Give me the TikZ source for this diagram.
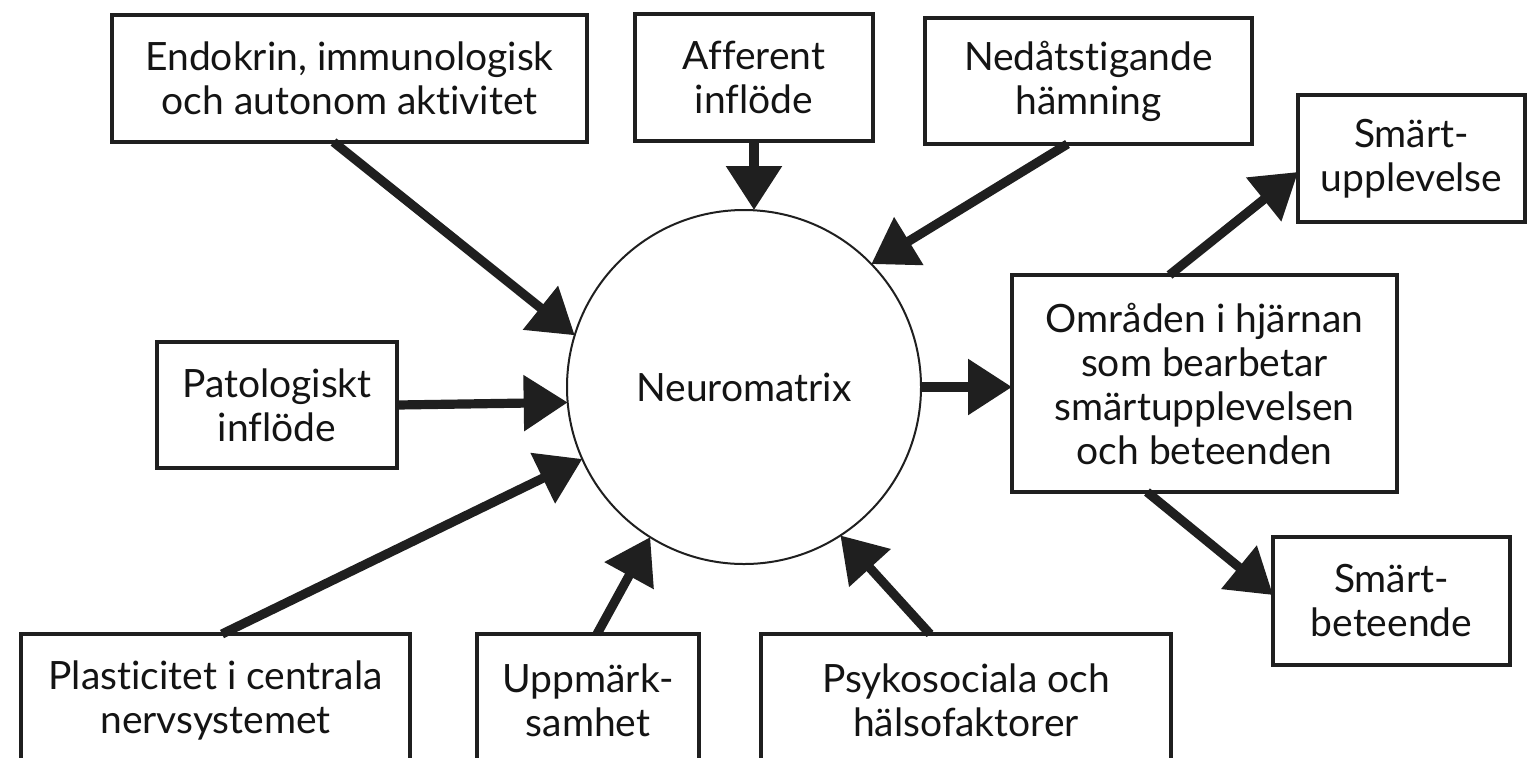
\documentclass[tikz,border=0pt]{standalone}
\usepackage{fontspec}
\setmainfont{Lato}[Ligatures=NoCommon]
\usetikzlibrary{arrows.meta}
\begin{document}
\begin{tikzpicture}[x=0.5pt,y=-0.5pt,
  box/.style={draw=black!88, line width=1.6pt, align=center, inner sep=0pt, outer sep=0pt,
    font=\fontsize{19.5}{22}\selectfont, text=black!92},
  arr/.style={line width=4.6pt, draw=black!88, -{Triangle[length=22pt,width=27pt]}},
]
\useasboundingbox (0,0) rectangle (1530,757);
\clip (0,0) rectangle (1530,757);
\fill[white] (0,0) rectangle (1530,757);

\node[box, minimum width=237.5pt, minimum height=63.5pt] (endo) at (349.5,78.5) {Endokrin, immunologisk\\och autonom aktivitet};
\node[box, minimum width=119pt, minimum height=63.5pt] (aff) at (754,77.5) {Afferent\\inflöde};
\node[box, minimum width=163.5pt, minimum height=63pt] (ned) at (1088.5,81) {Nedåtstigande\\hämning};
\node[box, minimum width=113.5pt, minimum height=63.5pt] (upp) at (1411.5,158.5) {Smärt-\\upplevelse};
\node[box, minimum width=192.5pt, minimum height=108.5pt] (omr) at (1204.5,383.5) {Områden i hjärnan\\som bearbetar\\smärtupplevelsen\\och beteenden};
\node[box, minimum width=118.5pt, minimum height=64pt] (bet) at (1391.5,601) {Smärt-\\beteende};
\node[box, minimum width=120pt, minimum height=63pt] (pat) at (277,405) {Patologiskt\\inflöde};
\node[box, minimum width=194.5pt, minimum height=66pt] (pla) at (215.5,700) {Plasticitet i centrala\\nervsystemet};
\node[box, minimum width=111pt, minimum height=66pt] (uppm) at (588,700) {Uppmärk-\\samhet};
\node[box, minimum width=205pt, minimum height=66pt] (psy) at (966,700) {Psykosociala och\\hälsofaktorer};

\node[circle, draw=black!88, line width=1pt, minimum size=177pt, inner sep=0pt, outer sep=0pt,
  font=\fontsize{19.5}{22}\selectfont, text=black!92] (nm) at (744,387) {Neuromatrix};

\draw[arr] ([xshift=-8pt]endo.south) -- (nm.163.8);
\draw[arr] (aff.south) -- (aff.south |- nm.north);
\draw[arr] ([xshift=-10.5pt]ned.south) -- (nm.44);
\draw[arr] (pat.east) -- (nm.185.8);
\draw[arr] ([xshift=3.25pt]pla.north) -- (nm.204.9);
\draw[arr] ([xshift=4.5pt]uppm.north) -- (nm.238.5);
\draw[arr] ([xshift=-18pt]psy.north) -- (nm.303.8);
\draw[arr] (nm.east) -- (nm.east -| omr.west);
\draw[arr] ([xshift=-17.5pt]omr.north) -- ([yshift=-6.75pt]upp.west);
\draw[arr] ([xshift=-28.75pt]omr.south) -- ([yshift=3pt]bet.west);
\end{tikzpicture}
\end{document}
